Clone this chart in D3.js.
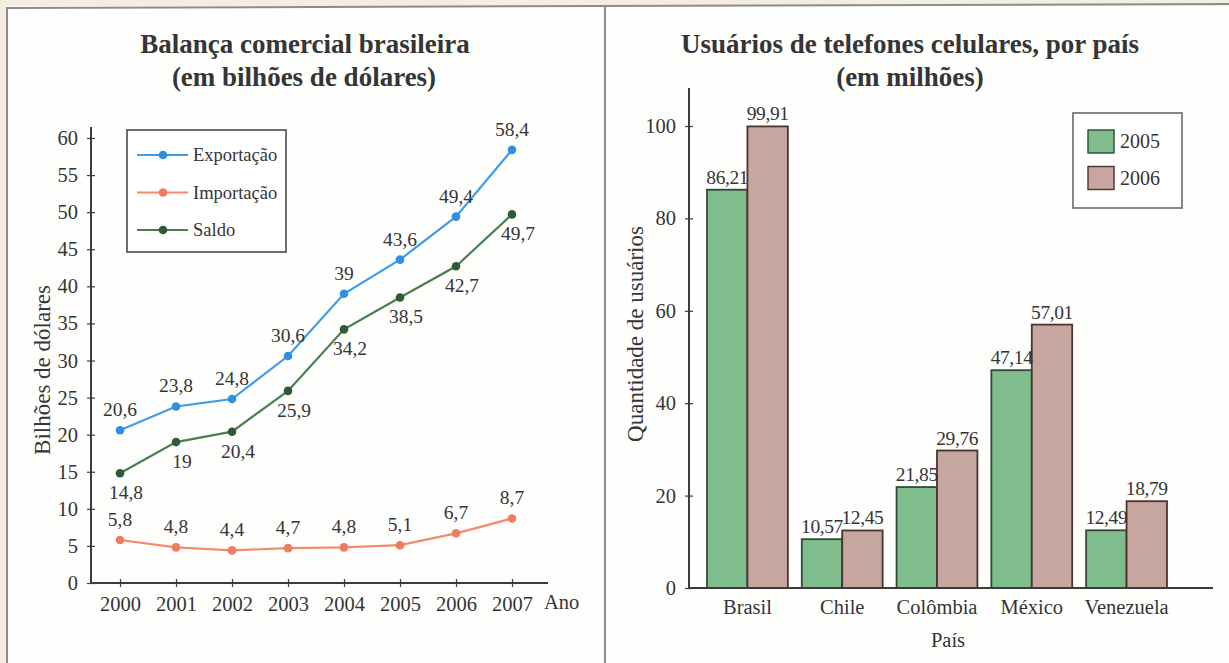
<!DOCTYPE html>
<html lang="pt-BR">
<head>
<meta charset="utf-8">
<title>Balança comercial e usuários de celulares</title>
<script src="https://cdn.jsdelivr.net/npm/d3@7"></script>
<style>
  html, body { margin: 0; padding: 0; background: #f4ede2; }
  svg { display: block; }
  text { font-family: "Liberation Serif", "DejaVu Serif", serif; fill: #353535; }
</style>
</head>
<body>
<svg id="chart" width="1229" height="663"></svg>
<script>
// ---- Balança comercial brasileira (bilhões de dólares) ----
const anos = [2000, 2001, 2002, 2003, 2004, 2005, 2006, 2007];
const exportacao = [20.6, 23.8, 24.8, 30.6, 39, 43.6, 49.4, 58.4];
const importacao = [5.8, 4.8, 4.4, 4.7, 4.8, 5.1, 6.7, 8.7];
const saldo = [14.8, 19, 20.4, 25.9, 34.2, 38.5, 42.7, 49.7];
const ticksBilhoes = [0, 5, 10, 15, 20, 25, 30, 35, 40, 45, 50, 55, 60];

// ---- Usuários de telefones celulares (milhões) ----
const paises = ["Brasil", "Chile", "Colômbia", "México", "Venezuela"];
const anosCelular = ["2005", "2006"];
const usuarios2005 = [86.21, 10.57, 21.85, 47.14, 12.49];
const usuarios2006 = [99.91, 12.45, 29.76, 57.01, 18.79];
const ticksUsuarios = [0, 20, 40, 60, 80, 100];

const virgula = v => String(v).replace(".", ",");
const virgula2 = v => d3.format(".2f")(v).replace(".", ",");

const svg = d3.select("#chart");

// page and panel frames
svg.append("rect").attr("x", 7).attr("y", 6).attr("width", 1222).attr("height", 657).attr("fill", "#fefefd");
const frame = svg.append("g").attr("stroke", "#8c8c8c").attr("stroke-width", 2).attr("fill", "none");
frame.append("line").attr("x1", 7).attr("y1", 8).attr("x2", 1229).attr("y2", 4);
frame.append("line").attr("x1", 7).attr("y1", 7).attr("x2", 7).attr("y2", 663);
frame.append("line").attr("x1", 605).attr("y1", 6).attr("x2", 605).attr("y2", 663);

const axisColor = "#3c3c3c";

function crossTicks(g, horizontal) {
  g.selectAll(".tick line")
    .attr("stroke", axisColor).attr("stroke-width", 1.2)
    .attr(horizontal ? "y1" : "x1", -4)
    .attr(horizontal ? "y2" : "x2", 4);
}

// ================= LEFT: line chart =================
const L = svg.append("g");

L.append("text").attr("x", 305).attr("y", 53).attr("text-anchor", "middle")
  .attr("font-size", 27).attr("font-weight", "bold").text("Balança comercial brasileira");
L.append("text").attr("x", 304).attr("y", 86).attr("text-anchor", "middle")
  .attr("font-size", 27).attr("font-weight", "bold").text("(em bilhões de dólares)");

const xL = d3.scalePoint().domain(anos).range([120, 512]);
const yL = d3.scaleLinear().domain([0, 60]).range([583, 138]);

// y axis
const yAxisL = L.append("g").attr("transform", "translate(91,0)")
  .call(d3.axisLeft(yL).tickValues(ticksBilhoes).tickSize(4).tickPadding(9).tickFormat(d => d));
yAxisL.select(".domain").remove();
yAxisL.selectAll("text").attr("font-size", 20.5).attr("fill", "#353535");
crossTicks(yAxisL, false);
L.append("line").attr("x1", 91).attr("x2", 91).attr("y1", 127).attr("y2", 583)
  .attr("stroke", axisColor).attr("stroke-width", 2);

// x axis
const xAxisL = L.append("g").attr("transform", "translate(0,583)")
  .call(d3.axisBottom(xL).tickSize(4).tickPadding(9).tickFormat(d => d));
xAxisL.select(".domain").remove();
xAxisL.selectAll("text").attr("font-size", 20.5).attr("fill", "#353535");
crossTicks(xAxisL, true);
L.append("line").attr("x1", 91).attr("x2", 548).attr("y1", 583).attr("y2", 583)
  .attr("stroke", axisColor).attr("stroke-width", 2);

L.append("text").attr("x", 544).attr("y", 609).attr("font-size", 20.5).text("Ano");
L.append("text").attr("transform", "translate(50,370) rotate(-90)")
  .attr("text-anchor", "middle").attr("font-size", 23).text("Bilhões de dólares");

const series = [
  { nome: "Exportação", valores: exportacao, cor: "#3f9ce8", marcador: "#2f8fe0", dx: 0, dy: -14 },
  { nome: "Importação", valores: importacao, cor: "#f4896d", marcador: "#ee7c62", dx: 0, dy: -14 },
  { nome: "Saldo", valores: saldo, cor: "#4a7f4e", marcador: "#2f5a36", dx: 6, dy: 26 }
];

const linha = d3.line().x((d, i) => xL(anos[i])).y(d => yL(d));

series.forEach(s => {
  L.append("path").datum(s.valores).attr("d", linha)
    .attr("fill", "none").attr("stroke", s.cor).attr("stroke-width", 2.2);
  L.selectAll(null).data(s.valores).enter().append("circle")
    .attr("cx", (d, i) => xL(anos[i])).attr("cy", d => yL(d)).attr("r", 4.3)
    .attr("fill", s.marcador);
  L.selectAll(null).data(s.valores).enter().append("text")
    .attr("x", (d, i) => xL(anos[i]) + s.dx).attr("y", d => yL(d) + s.dy)
    .attr("text-anchor", "middle").attr("font-size", 19.5).text(d => virgula(d));
});

// legend
const legL = L.append("g");
legL.append("rect").attr("x", 127).attr("y", 130).attr("width", 159).attr("height", 122)
  .attr("fill", "#fff").attr("stroke", "#4a4a4a").attr("stroke-width", 1.6);
series.forEach((s, i) => {
  const yy = 155 + i * 37.5;
  legL.append("line").attr("x1", 137).attr("x2", 188).attr("y1", yy).attr("y2", yy)
    .attr("stroke", s.cor).attr("stroke-width", 2.2);
  legL.append("circle").attr("cx", 163).attr("cy", yy).attr("r", 4.3).attr("fill", s.marcador);
  legL.append("text").attr("x", 193).attr("y", yy + 6).attr("font-size", 18.5).text(s.nome);
});

// ================= RIGHT: grouped bar chart =================
const R = svg.append("g");

R.append("text").attr("x", 910).attr("y", 53).attr("text-anchor", "middle")
  .attr("font-size", 27).attr("font-weight", "bold").text("Usuários de telefones celulares, por país");
R.append("text").attr("x", 910).attr("y", 86).attr("text-anchor", "middle")
  .attr("font-size", 27).attr("font-weight", "bold").text("(em milhões)");

const x0 = d3.scaleBand().domain(paises).range([700, 1174]).paddingInner(0.147).paddingOuter(0.074);
const x1 = d3.scaleBand().domain(anosCelular).range([0, x0.bandwidth()]);
const yR = d3.scaleLinear().domain([0, 100]).range([588, 126]);
const corBarra = { "2005": "#7fbd8c", "2006": "#c6a69e" };
const corBorda = { "2005": "#2e4a36", "2006": "#4a342e" };

const linhas = paises.map((p, i) => ({ pais: p, valores: [
  { ano: "2005", v: usuarios2005[i] },
  { ano: "2006", v: usuarios2006[i] }
]}));

const grupos = R.selectAll(".grupo").data(linhas).enter().append("g")
  .attr("transform", d => `translate(${x0(d.pais)},0)`);
grupos.selectAll("rect").data(d => d.valores).enter().append("rect")
  .attr("x", d => x1(d.ano)).attr("y", d => yR(d.v))
  .attr("width", x1.bandwidth()).attr("height", d => yR(0) - yR(d.v))
  .attr("fill", d => corBarra[d.ano]).attr("stroke", d => corBorda[d.ano]).attr("stroke-width", 1.8);
grupos.selectAll("text").data(d => d.valores).enter().append("text")
  .attr("x", d => x1(d.ano) + x1.bandwidth() / 2).attr("y", d => yR(d.v) - 6)
  .attr("text-anchor", "middle").attr("font-size", 19.5).attr("letter-spacing", -0.4)
  .text(d => virgula2(d.v));

// axes
const yAxisR = R.append("g").attr("transform", "translate(689,0)")
  .call(d3.axisLeft(yR).tickValues(ticksUsuarios).tickSize(4).tickPadding(9));
yAxisR.select(".domain").remove();
yAxisR.selectAll("text").attr("font-size", 20.5).attr("fill", "#353535");
crossTicks(yAxisR, false);
R.append("line").attr("x1", 689).attr("x2", 689).attr("y1", 88).attr("y2", 588)
  .attr("stroke", axisColor).attr("stroke-width", 2);

const xAxisR = R.append("g").attr("transform", "translate(0,588)")
  .call(d3.axisBottom(x0).tickSize(0).tickPadding(11));
xAxisR.select(".domain").remove();
xAxisR.selectAll("text").attr("font-size", 20.5).attr("fill", "#353535");
R.append("line").attr("x1", 689).attr("x2", 1213).attr("y1", 588).attr("y2", 588)
  .attr("stroke", axisColor).attr("stroke-width", 2.2);

R.append("text").attr("x", 948).attr("y", 647).attr("text-anchor", "middle")
  .attr("font-size", 20.5).text("País");
R.append("text").attr("transform", "translate(643,334) rotate(-90)")
  .attr("text-anchor", "middle").attr("font-size", 23).text("Quantidade de usuários");

// legend
const legR = R.append("g");
legR.append("rect").attr("x", 1073).attr("y", 113).attr("width", 109).attr("height", 95)
  .attr("fill", "#fff").attr("stroke", "#6a6a6a").attr("stroke-width", 1.6);
anosCelular.forEach((a, i) => {
  const yy = 130 + i * 36.5;
  legR.append("rect").attr("x", 1088).attr("y", yy).attr("width", 26).attr("height", 23)
    .attr("fill", corBarra[a]).attr("stroke", corBorda[a]).attr("stroke-width", 1.4);
  legR.append("text").attr("x", 1120).attr("y", yy + 18).attr("font-size", 20).text(a);
});
</script>
</body>
</html>
